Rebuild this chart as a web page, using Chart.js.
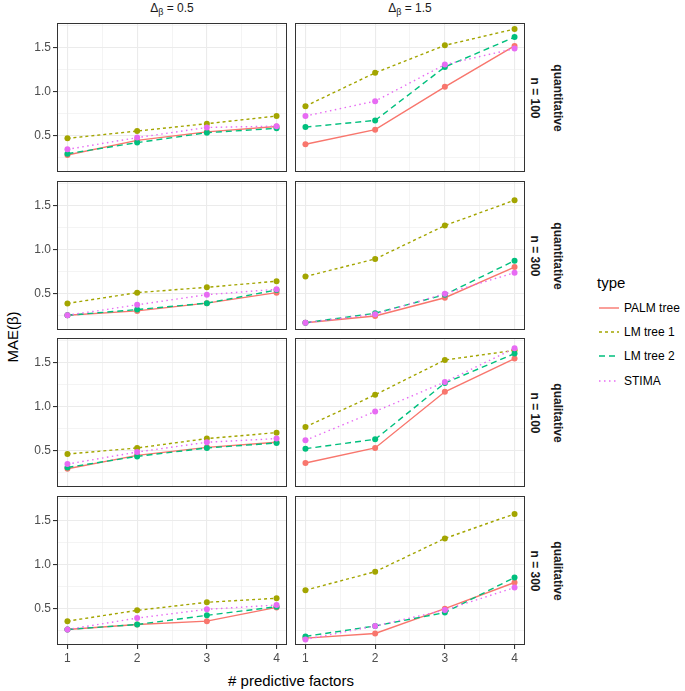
<!DOCTYPE html>
<html>
<head>
<meta charset="utf-8">
<script src="https://cdn.jsdelivr.net/npm/chart.js@4.4.1/dist/chart.umd.min.js"></script>
<style>
  body { margin: 0; background: #fff; }
  #wrap { position: relative; width: 685px; height: 691px; font-family: "Liberation Sans", Arial, sans-serif; }
  canvas { position: absolute; }
  .t { position: absolute; white-space: nowrap; transform: translate(-50%, -50%); color: #1A1A1A; }
  .strip { font-size: 12px; }
  .rstrip { font-size: 12px; font-weight: bold; transform: translate(-50%, -50%) rotate(90deg); }
  .title { font-size: 15px; color: #000; }
  .legend { position: absolute; left: 597px; top: 272px; color: #000; }
  .legend .lt { font-size: 15px; height: 24px; line-height: 22px; }
  .legend .row { height: 24.2px; display: flex; align-items: center; font-size: 12px; }
  .legend svg { margin-left: 2px; margin-right: 5px; }
</style>
</head>
<body>
<div id="wrap"></div>
<script>
// x = number of predictive factors
const xValues = [1, 2, 3, 4];
const seriesNames = ['PALM tree', 'LM tree 1', 'LM tree 2', 'STIMA'];
const seriesColors = ['#F8766D', '#A3A500', '#00BF7D', '#E76BF3'];
const seriesDash = [[], [3, 3], [6, 4], [1.5, 3.5]];

// MAE(beta) per panel, rows in seriesNames order
const quant100Delta05 = [
  [0.276, 0.443, 0.540, 0.600],
  [0.466, 0.549, 0.633, 0.720],
  [0.290, 0.417, 0.530, 0.580],
  [0.340, 0.474, 0.590, 0.605]
];
const quant100Delta15 = [
  [0.398, 0.565, 1.053, 1.520],
  [0.833, 1.213, 1.526, 1.712],
  [0.594, 0.670, 1.280, 1.620],
  [0.720, 0.890, 1.307, 1.489]
];
const quant300Delta05 = [
  [0.250, 0.300, 0.388, 0.508],
  [0.385, 0.508, 0.569, 0.638],
  [0.250, 0.315, 0.388, 0.538],
  [0.250, 0.369, 0.485, 0.546]
];
const quant300Delta15 = [
  [0.165, 0.242, 0.450, 0.800],
  [0.692, 0.892, 1.273, 1.562],
  [0.165, 0.273, 0.485, 0.873],
  [0.165, 0.262, 0.496, 0.735]
];
const qual100Delta05 = [
  [0.290, 0.443, 0.534, 0.592],
  [0.458, 0.527, 0.634, 0.702],
  [0.305, 0.431, 0.527, 0.584],
  [0.343, 0.481, 0.592, 0.634]
];
const qual100Delta15 = [
  [0.355, 0.527, 1.168, 1.546],
  [0.767, 1.134, 1.530, 1.640],
  [0.519, 0.626, 1.267, 1.603],
  [0.615, 0.943, 1.279, 1.664]
];
const qual300Delta05 = [
  [0.259, 0.316, 0.354, 0.511],
  [0.354, 0.477, 0.569, 0.615],
  [0.259, 0.316, 0.420, 0.519],
  [0.259, 0.389, 0.489, 0.538]
];
const qual300Delta15 = [
  [0.160, 0.213, 0.496, 0.795],
  [0.707, 0.918, 1.297, 1.577],
  [0.180, 0.299, 0.452, 0.852],
  [0.146, 0.299, 0.480, 0.737]
];

const colLabels = ['0.5', '1.5'];
const rowLabelsInner = ['n = 100', 'n = 300', 'n = 100', 'n = 300'];
const rowLabelsOuter = ['quantitative', 'quantitative', 'qualitative', 'qualitative'];
const yTicks = [0.25, 0.5, 0.75, 1.0, 1.25, 1.5, 1.75];
const xTicks = [1, 1.5, 2, 2.5, 3, 3.5, 4];

const panelData = [
  [quant100Delta05, quant100Delta15],
  [quant300Delta05, quant300Delta15],
  [qual100Delta05, qual100Delta15],
  [qual300Delta05, qual300Delta15]
];

// layout (px)
const wrap = document.getElementById('wrap');
const rowTops = [23, 181, 338, 496];
const colLefts = [57, 295];
const panelW = 230, panelH = 149;
const yAxisW = 30, xAxisH = 20;

const panelBorder = {
  id: 'panelBorder',
  afterDraw(chart) {
    const { ctx, chartArea: a } = chart;
    ctx.save();
    ctx.strokeStyle = '#333333';
    ctx.lineWidth = 1;
    ctx.strokeRect(a.left + 0.5, a.top + 0.5, a.right - a.left - 1, a.bottom - a.top - 1);
    ctx.restore();
  }
};

function isMajor(v) { return Math.abs(v * 2 - Math.round(v * 2)) < 1e-9; }

function noPadding(s) {
  s.paddingTop = 0; s.paddingBottom = 0; s.paddingLeft = 0; s.paddingRight = 0;
}

function buildDatasets(values) {
  const lines = seriesNames.map((name, i) => ({
    label: name,
    data: xValues.map((x, j) => ({ x: x, y: values[i][j] })),
    borderColor: seriesColors[i],
    borderWidth: 1.4,
    borderDash: seriesDash[i],
    pointRadius: 0,
    fill: false,
    order: 20 - i
  }));
  const points = seriesNames.map((name, i) => ({
    label: name,
    data: xValues.map((x, j) => ({ x: x, y: values[i][j] })),
    showLine: false,
    pointRadius: 3,
    pointBorderWidth: 0,
    pointBackgroundColor: seriesColors[i],
    borderColor: seriesColors[i],
    order: 10 - i
  }));
  return lines.concat(points);
}

function makePanel(r, c) {
  const showY = c === 0, showX = r === 3;
  const canvas = document.createElement('canvas');
  const w = panelW + (showY ? yAxisW : 0);
  const h = panelH + (showX ? xAxisH : 0);
  canvas.width = w; canvas.height = h;
  canvas.style.left = (colLefts[c] - (showY ? yAxisW : 0)) + 'px';
  canvas.style.top = rowTops[r] + 'px';
  wrap.appendChild(canvas);

  new Chart(canvas.getContext('2d'), {
    type: 'line',
    data: { datasets: buildDatasets(panelData[r][c]) },
    options: {
      responsive: false,
      animation: false,
      events: [],
      layout: { padding: 0, autoPadding: false },
      plugins: { legend: { display: false }, tooltip: { enabled: false } },
      scales: {
        x: {
          type: 'linear',
          min: 0.85, max: 4.15,
          afterBuildTicks: s => { s.ticks = xTicks.map(v => ({ value: v })); },
          afterFit: s => { s.height = showX ? xAxisH : 0; noPadding(s); },
          border: { display: false },
          grid: {
            color: '#EBEBEB',
            lineWidth: ctx => (ctx.tick && Number.isInteger(ctx.tick.value)) ? 1.1 : 0.55,
            drawTicks: showX,
            tickLength: 4,
            tickColor: ctx => (ctx.tick && Number.isInteger(ctx.tick.value)) ? '#333333' : 'rgba(0,0,0,0)'
          },
          ticks: {
            display: showX,
            autoSkip: false,
            maxRotation: 0,
            padding: 2,
            color: '#4D4D4D',
            font: { family: '"Liberation Sans", Arial, sans-serif', size: 12 },
            callback: v => Number.isInteger(v) ? String(v) : ''
          }
        },
        y: {
          type: 'linear',
          min: 0.082, max: 1.781,
          afterBuildTicks: s => { s.ticks = yTicks.map(v => ({ value: v })); },
          afterFit: s => { s.width = showY ? yAxisW : 0; noPadding(s); },
          border: { display: false },
          grid: {
            color: '#EBEBEB',
            lineWidth: ctx => (ctx.tick && isMajor(ctx.tick.value)) ? 1.1 : 0.55,
            drawTicks: showY,
            tickLength: 4,
            tickColor: ctx => (ctx.tick && isMajor(ctx.tick.value)) ? '#333333' : 'rgba(0,0,0,0)'
          },
          ticks: {
            display: showY,
            autoSkip: false,
            padding: 2,
            color: '#4D4D4D',
            font: { family: '"Liberation Sans", Arial, sans-serif', size: 12 },
            callback: v => isMajor(v) ? v.toFixed(1) : ''
          }
        }
      }
    },
    plugins: [panelBorder]
  });
}

for (let r = 0; r < 4; r++) for (let c = 0; c < 2; c++) makePanel(r, c);

function addText(cls, html, x, y) {
  const d = document.createElement('div');
  d.className = 't ' + cls;
  d.innerHTML = html;
  d.style.left = x + 'px';
  d.style.top = y + 'px';
  wrap.appendChild(d);
}

colLabels.forEach((lab, c) => {
  addText('strip', '\u0394<sub style="font-size:9px">\u03B2</sub> = ' + lab, colLefts[c] + panelW / 2, 9);
});
rowTops.forEach((top, r) => {
  addText('rstrip', rowLabelsInner[r], 535, top + panelH / 2);
  addText('rstrip', rowLabelsOuter[r], 558, top + panelH / 2);
});
addText('title', '# predictive factors', (colLefts[0] + colLefts[1] + panelW) / 2, 680);
const yt = document.createElement('div');
yt.className = 't title';
yt.style.transform = 'translate(-50%, -50%) rotate(-90deg)';
yt.style.left = '12px'; yt.style.top = '337px';
yt.textContent = 'MAE(\u03B2)';
wrap.appendChild(yt);

// legend
const lg = document.createElement('div');
lg.className = 'legend';
let html = '<div class="lt">type</div>';
seriesNames.forEach((name, i) => {
  const dash = seriesDash[i].length ? seriesDash[i].join(',') : 'none';
  html += '<div class="row"><svg width="20" height="10"><line x1="0" y1="5" x2="20" y2="5" stroke="' +
    seriesColors[i] + '" stroke-width="1.4" stroke-dasharray="' + dash + '"/></svg>' + name + '</div>';
});
lg.innerHTML = html;
wrap.appendChild(lg);
</script>
</body>
</html>
